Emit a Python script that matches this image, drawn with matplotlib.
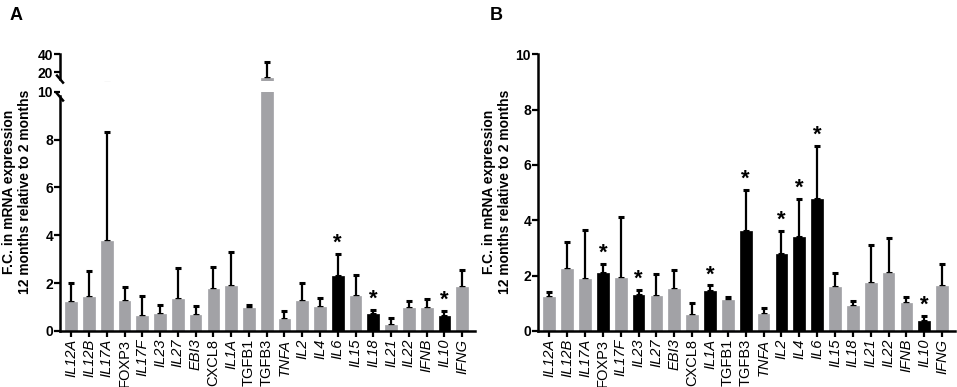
import numpy as np
import matplotlib
matplotlib.use('Agg')
import matplotlib.pyplot as plt

plt.rcParams['font.family'] = ['Liberation Sans', 'DejaVu Sans']

genes = ['IL12A', 'IL12B', 'IL17A', 'FOXP3', 'IL17F', 'IL23', 'IL27', 'EBI3',
         'CXCL8', 'IL1A', 'TGFB1', 'TGFB3', 'TNFA', 'IL2', 'IL4', 'IL6',
         'IL15', 'IL18', 'IL21', 'IL22', 'IFNB', 'IL10', 'IFNG']
upright = ['FOXP3', 'CXCL8', 'TGFB1', 'TGFB3']

# panel A: mean and top of error bar
a_mean = [1.21, 1.42, 3.77, 1.25, 0.62, 0.73, 1.34, 0.67, 1.77, 1.89, 0.95, 13.5,
          0.49, 1.26, 0.99, 2.30, 1.47, 0.70, 0.27, 0.96, 0.96, 0.62, 1.82]
a_top = [2.00, 2.51, 8.30, 1.85, 1.45, 1.10, 2.62, 1.05, 2.67, 3.30, 1.10, 31.0,
         0.84, 2.01, 1.38, 3.22, 2.33, 0.89, 0.55, 1.25, 1.32, 0.84, 2.56]
a_sig = ['IL6', 'IL18', 'IL10']

# panel B
b_mean = [1.24, 2.24, 1.89, 2.10, 1.90, 1.30, 1.28, 1.53, 0.57, 1.43, 1.12, 3.61,
          0.61, 2.80, 3.41, 4.78, 1.60, 0.90, 1.75, 2.08, 1.00, 0.36, 1.63]
b_top = [1.42, 3.20, 3.64, 2.42, 4.13, 1.49, 2.05, 2.20, 1.00, 1.65, 1.22, 5.10,
         0.84, 3.61, 4.77, 6.69, 2.11, 1.07, 3.10, 3.36, 1.22, 0.54, 2.41]
b_sig = ['FOXP3', 'IL23', 'IL1A', 'TGFB3', 'IL2', 'IL4', 'IL6', 'IL10']

GRAY = '#a2a2a6'
W, H = 957, 387
fig = plt.figure(figsize=(W / 100, H / 100), dpi=100)


def px_axes(x0, y0, x1, y1):
    # pixel box (top-left origin) -> figure axes
    return fig.add_axes([x0 / W, 1 - y1 / H, (x1 - x0) / W, (y1 - y0) / H])


def draw_bars(ax, mean, top, sig, stars=True):
    x = np.arange(len(genes))
    mean = np.array(mean)
    top = np.array(top)
    cols = ['black' if g in sig else GRAY for g in genes]
    ax.bar(x, mean, width=0.66, color=cols, edgecolor=cols, linewidth=0.5, zorder=2)
    ax.errorbar(x, mean, yerr=[np.zeros_like(mean), top - mean], fmt='none',
                ecolor='black', elinewidth=1.6, capsize=2.2, capthick=2.2, zorder=1)
    if stars:
        for i, g in enumerate(genes):
            if g in sig:
                ax.annotate('*', (x[i], top[i]), xytext=(0, 0), textcoords='offset points',
                            ha='center', va='bottom', fontsize=16, fontweight='bold')
    ax.set_xlim(-0.63, 22.72)


def style(ax):
    for s in ['top', 'right']:
        ax.spines[s].set_visible(False)
    for s in ['left', 'bottom']:
        ax.spines[s].set_linewidth(1.8)
    ax.tick_params(axis='y', width=1.6, length=4, labelsize=10, pad=1)
    ax.tick_params(axis='x', width=1.6, length=4, labelsize=10.5, pad=1.5)
    for t in ax.get_yticklabels():
        t.set_fontweight('bold')


def xlabels(ax):
    ax.set_xticks(np.arange(len(genes)))
    ax.set_xticklabels(genes, rotation=90)
    for t, g in zip(ax.get_xticklabels(), genes):
        t.set_fontstyle('normal' if g in upright else 'italic')


# ---- panel A ----
axA = px_axes(60, 91.7, 475, 331)
draw_bars(axA, a_mean, a_top, a_sig)
axA.set_ylim(0, 10)
axA.set_yticks([0, 2, 4, 6, 8, 10])
axA.spines['left'].set_bounds(0, 9.8)
style(axA)
xlabels(axA)

axA2 = px_axes(60, 54.3, 475, 81.3)
draw_bars(axA2, a_mean, a_top, a_sig, stars=False)
axA2.set_ylim(10, 40)
axA2.set_yticks([20, 40])
style(axA2)
axA2.spines['bottom'].set_visible(False)
axA2.spines['left'].set_bounds(13, 40)
axA2.set_xticks([])

# break marks on the left spine
for ax, yv in [(axA2, 13), (axA, 9.8)]:
    xpix, ypix = ax.transData.transform((0, yv))
    xpix = ax.transAxes.transform((0, 0))[0]
    pts = np.array([[xpix - 3, ypix + 3], [xpix + 3, ypix - 4]])
    pts = fig.transFigure.inverted().transform(pts)
    fig.add_artist(plt.Line2D(pts[:, 0], pts[:, 1], color='black', lw=1.8))

fig.text(17 / W, 1 - 192 / H, 'F.C. in mRNA expression\n12 months relative to 2 months',
         rotation=90, ha='center', va='center', fontsize=10, fontweight='bold')
fig.text(10 / W, 1 - 16 / H, 'A', ha='left', va='center', fontsize=13, fontweight='bold')

# ---- panel B ----
axB = px_axes(538, 54.3, 955, 331)
draw_bars(axB, b_mean, b_top, b_sig)
axB.set_ylim(0, 10)
axB.set_yticks([0, 2, 4, 6, 8, 10])
style(axB)
xlabels(axB)

fig.text(497 / W, 1 - 192 / H, 'F.C. in mRNA expression\n12 months relative to 2 months',
         rotation=90, ha='center', va='center', fontsize=10, fontweight='bold')
fig.text(490 / W, 1 - 16 / H, 'B', ha='left', va='center', fontsize=13, fontweight='bold')

fig.savefig('out.png', dpi=100)
